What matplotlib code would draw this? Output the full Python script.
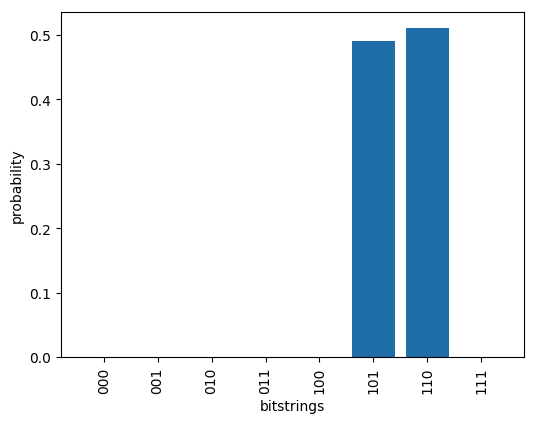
import matplotlib
matplotlib.use("Agg")
import matplotlib.pyplot as plt

bitstrings = ["000", "001", "010", "011", "100", "101", "110", "111"]
probabilities = [0, 0, 0, 0, 0, 0.49, 0.51, 0]

fig = plt.figure(figsize=(5.42, 4.35), dpi=100)
ax = fig.add_axes([61/542, 1-358/435, (524-61)/542, (358-13)/435])
ax.bar(bitstrings, probabilities, color="#1f6ea8")
ax.set_xlabel("bitstrings")
ax.set_ylabel("probability")
ax.tick_params(axis="x", rotation=90)
fig.savefig("out.png", dpi=100)
